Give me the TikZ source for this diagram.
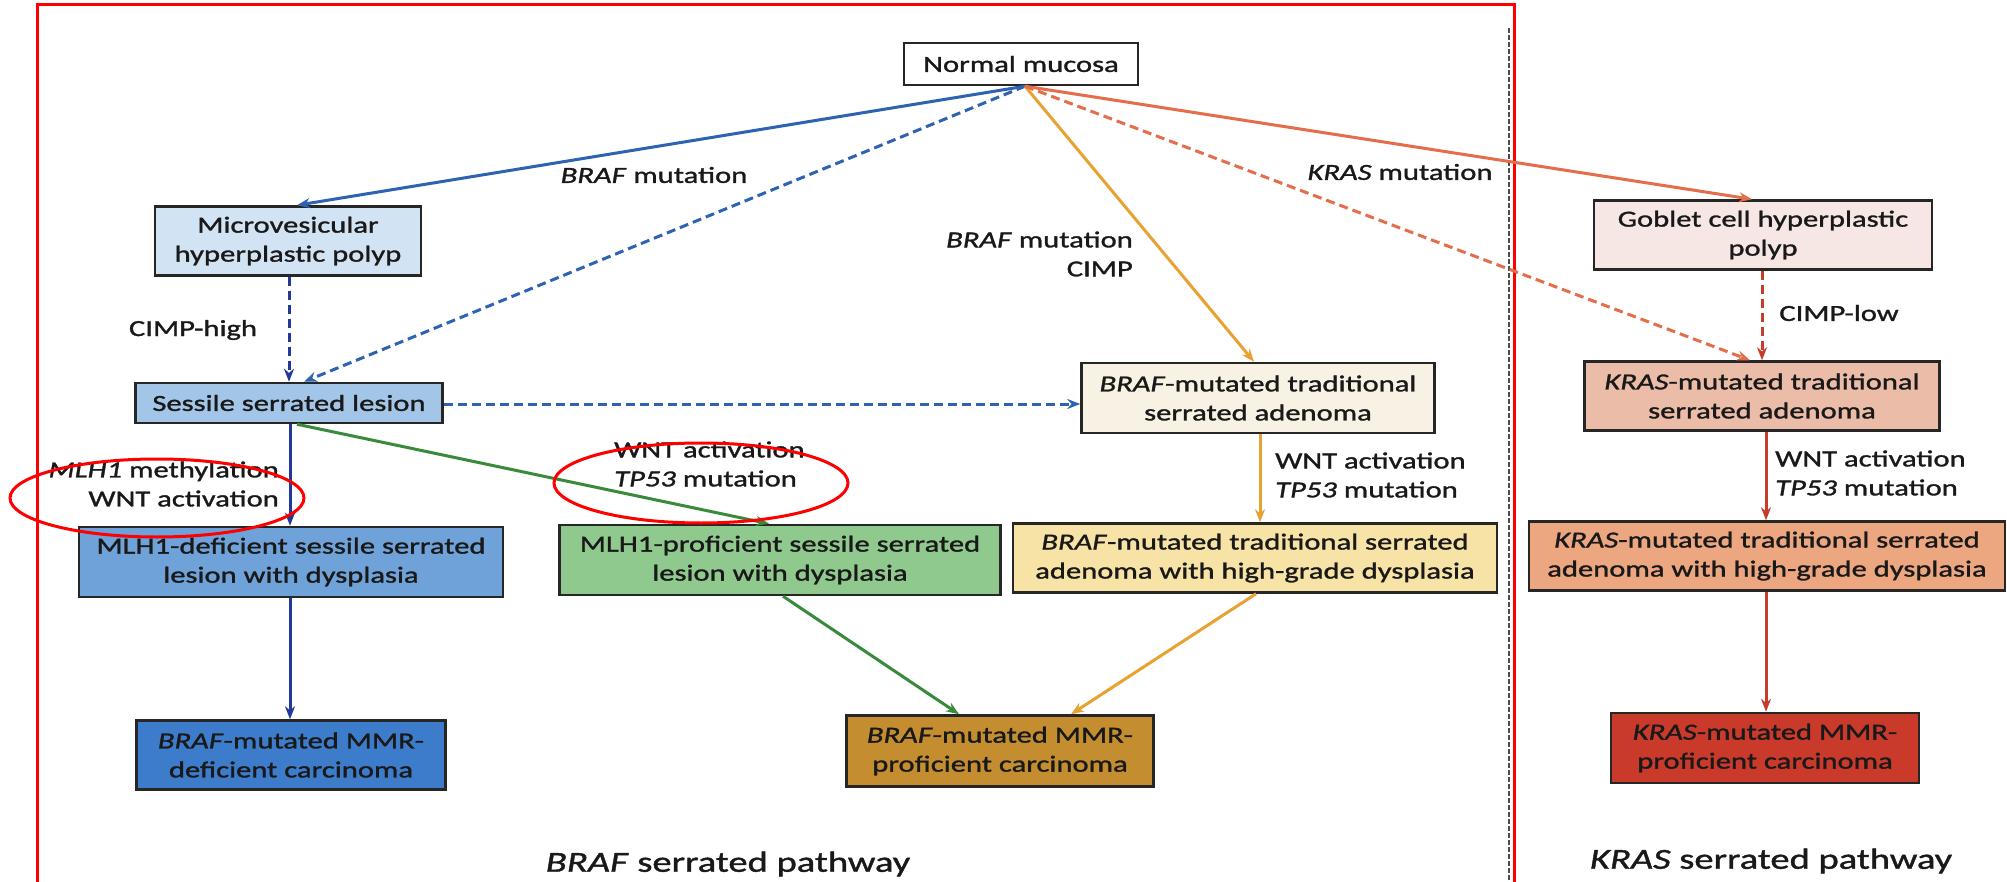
\documentclass[tikz,border=0pt]{standalone}
\usepackage{fontspec}
\setmainfont{Carlito}[FakeStretch=1.33, UprightFeatures={FakeBold=1.3}, ItalicFeatures={FakeBold=1.3}]
\usetikzlibrary{arrows.meta}
\definecolor{cMicro}{HTML}{D2E3F3}
\definecolor{cSSL}{HTML}{A3C6E8}
\definecolor{cMdef}{HTML}{6EA2D8}
\definecolor{cDef}{HTML}{3D7BCB}
\definecolor{cProf}{HTML}{90C98D}
\definecolor{cBtsa}{HTML}{F8F2E4}
\definecolor{cBhgd}{HTML}{F7E3A6}
\definecolor{cBmmr}{HTML}{C48E30}
\definecolor{cGob}{HTML}{F6E7E4}
\definecolor{cKtsa}{HTML}{EBBCA7}
\definecolor{cKhgd}{HTML}{ECA680}
\definecolor{cKmmr}{HTML}{C93A2B}
\definecolor{lBlue}{HTML}{2E63B2}
\definecolor{lNavy}{HTML}{22399A}
\definecolor{lGreen}{HTML}{3A8A3C}
\definecolor{lOrange}{HTML}{E8A232}
\definecolor{lKras}{HTML}{E46E4C}
\definecolor{lRed}{HTML}{C83A2A}
\begin{document}
\begin{tikzpicture}[x=1pt,y=-1pt]
\tikzset{
  bx/.style={draw=black!85, line width=2.5pt, inner sep=0pt, align=center,
    font=\fontsize{23}{29}\selectfont, text=black!90},
  lbl/.style={inner sep=0pt, font=\fontsize{23}{29}\selectfont, text=black!90},
  arr/.style={line width=3pt, -{Stealth[length=13pt,width=10pt]}},
  dsh/.style={dash pattern=on 9pt off 5pt},
  ring/.style={draw=red, line width=3pt},
}
\useasboundingbox (0,0) rectangle (2007,882);
\fill[white] (0,0) rectangle (2007,882);

% frame and divider
\draw[black!70, line width=2pt, dash pattern=on 5pt off 2pt] (1509,28) -- (1509,882);
\draw[red, line width=3pt] (37,882) -- (37,5) -- (1514,5) -- (1514,882);

% boxes
\node[bx, fill=white, minimum width=234pt, minimum height=42pt] (normal) at (1021,64) {Normal mucosa};
\node[bx, fill=cMicro, minimum width=266pt, minimum height=69pt] (micro) at (288,241) {Microvesicular\\hyperplastic polyp};
\node[bx, fill=cSSL, minimum width=307pt, minimum height=40pt] (ssl) at (289,403) {Sessile serrated lesion};
\node[bx, fill=cMdef, minimum width=424pt, minimum height=70pt] (mlhdef) at (291,562) {MLH1-deficient sessile serrated\\lesion with dysplasia};
\node[bx, fill=cDef, minimum width=309pt, minimum height=69pt] (mmrdef) at (291,755) {\textit{BRAF}-mutated MMR-\\deficient carcinoma};
\node[bx, fill=cProf, minimum width=441pt, minimum height=70pt] (mlhprof) at (780,560) {MLH1-proficient sessile serrated\\lesion with dysplasia};
\node[bx, fill=cBtsa, minimum width=353pt, minimum height=70pt] (btsa) at (1258,398) {\textit{BRAF}-mutated traditional\\serrated adenoma};
\node[bx, fill=cBhgd, minimum width=484pt, minimum height=69pt] (bhgd) at (1255,558) {\textit{BRAF}-mutated traditional serrated\\adenoma with high-grade dysplasia};
\node[bx, fill=cBmmr, minimum width=307pt, minimum height=71pt] (mmrprof) at (1000,751) {\textit{BRAF}-mutated MMR-\\proficient carcinoma};
\node[bx, fill=cGob, minimum width=338pt, minimum height=69pt] (goblet) at (1763,235) {Goblet cell hyperplastic\\polyp};
\node[bx, fill=cKtsa, minimum width=355pt, minimum height=69pt] (ktsa) at (1762,396) {\textit{KRAS}-mutated traditional\\serrated adenoma};
\node[bx, fill=cKhgd, minimum width=476pt, minimum height=69pt] (khgd) at (1767,556) {\textit{KRAS}-mutated traditional serrated\\adenoma with high-grade dysplasia};
\node[bx, fill=cKmmr, minimum width=308pt, minimum height=70pt] (kmmr) at (1765,748) {\textit{KRAS}-mutated MMR-\\proficient carcinoma};

% connectors from normal mucosa
\coordinate (src) at ([xshift=4pt]normal.south);
\draw[arr, lBlue] (src) -- ([xshift=9pt]micro.north);
\draw[arr, lBlue, dsh] (src) -- ([xshift=15pt]ssl.north);
\draw[arr, lOrange] (src) -- ([xshift=-4pt]btsa.north);
\draw[arr, lKras, dsh] (src) -- ([xshift=-12pt]ktsa.north);
\draw[arr, lKras] (src) -- ([xshift=-11pt]goblet.north);

% BRAF branch
\draw[arr, lNavy, dsh] ([xshift=1pt]micro.south) -- ([xshift=1pt]micro.south |- ssl.north);
\draw[arr, lBlue, dsh] ([yshift=-1pt]ssl.east) -- ([yshift=-1pt]ssl.east -| btsa.west);
\draw[arr, lNavy] ([xshift=1pt]ssl.south) -- ([xshift=1pt]ssl.south |- mlhdef.north);
\draw[arr, lNavy] ([xshift=-1pt]mlhdef.south) -- ([xshift=-1pt]mlhdef.south |- mmrdef.north);
\draw[arr, lGreen] ([xshift=8pt]ssl.south) -- ([xshift=-11pt]mlhprof.north);
\draw[arr, lGreen] ([xshift=3pt]mlhprof.south) -- ([xshift=-41pt]mmrprof.north);
\draw[arr, lOrange] ([xshift=2pt]btsa.south) -- ([xshift=2pt]btsa.south |- bhgd.north);
\draw[arr, lOrange] ([xshift=1pt]bhgd.south) -- ([xshift=71pt]mmrprof.north);

% KRAS branch
\draw[arr, lRed, dsh] ([xshift=-1pt]goblet.south) -- ([xshift=-1pt]goblet.south |- ktsa.north);
\draw[arr, lRed] ([xshift=4pt]ktsa.south) -- ([xshift=4pt]ktsa.south |- khgd.north);
\draw[arr, lRed] ([xshift=-1pt]khgd.south) -- ([xshift=-1pt]khgd.south |- kmmr.north);

% labels
\node[lbl] (lBraf) at (654,175) {\textit{BRAF} mutation};
\node[lbl] (lKras) at (1400,172) {\textit{KRAS} mutation};
\node[lbl, anchor=east, align=right] (lBrafC) at (1133,254) {\textit{BRAF} mutation\\CIMP};
\node[lbl] (lCh) at (193,330) {CIMP-high};
\node[lbl] (lCl) at (1839,313) {CIMP-low};
\node[lbl, anchor=east, align=right] (lMlh) at (279,484) {\textit{MLH1} methylation\\WNT activation};
\node[lbl, anchor=west, align=left] (lW1) at (614,464) {WNT activation\\\textit{TP53} mutation};
\node[lbl, anchor=west, align=left] (lW2) at (1275,475) {WNT activation\\\textit{TP53} mutation};
\node[lbl, anchor=west, align=left] (lW3) at (1775,473) {WNT activation\\\textit{TP53} mutation};
\node[lbl, font=\fontsize{29}{34}\selectfont] (tBraf) at (728,864) {\textit{BRAF} serrated pathway};
\node[lbl, font=\fontsize{29}{34}\selectfont] (tKras) at (1771,861) {\textit{KRAS} serrated pathway};

% red highlight rings
\draw[ring] (157,498) ellipse [x radius=147pt, y radius=39pt];
\draw[ring] (701,483) ellipse [x radius=147pt, y radius=40pt];
\end{tikzpicture}
\end{document}
